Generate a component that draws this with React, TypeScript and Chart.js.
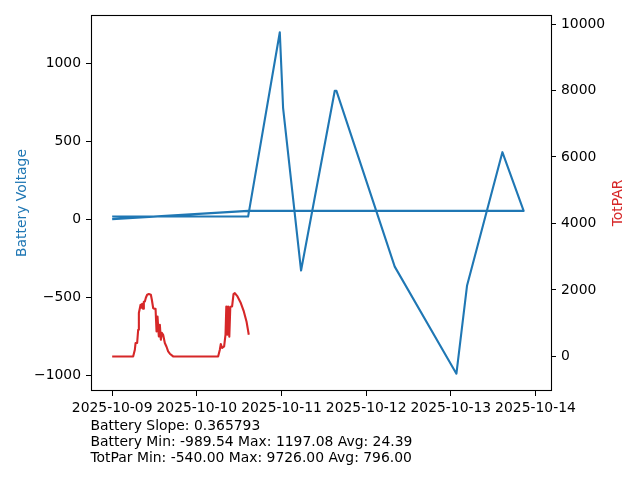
import React, { useEffect, useRef } from 'react';
import { Chart, registerables } from 'chart.js';

Chart.register(...registerables);

// ---- Data (hours since 2025-10-09 00:00) ----
const batteryHours = [0, 38.54, 47.52, 48.45, 53.55, 63.1, 63.58, 80.1, 97.59, 100.59, 110.62, 116.65, 38.54, 0];
const batteryValues = [16.7, 16.7, 1197.08, 713, -329, 822, 822, -304, -989.54, -427, 429, 53, 53, 0];

const parHours = [
  0, 5.95, 6.43, 6.63, 7.08, 7.37, 7.57, 8.05, 8.27, 8.5,
  8.78, 8.98, 9.27, 9.55, 9.92, 10.4, 10.97, 11.25, 11.62, 11.96,
  12.3, 12.58, 12.86, 13.09, 13.23, 13.52, 13.8, 14.08, 14.45, 14.93,
  15.41, 15.87, 16.35, 17.28, 30.04, 30.52, 30.8, 31.17, 31.74, 32.13,
  32.36, 32.64, 32.87, 33.21, 33.49, 34.0, 34.4, 34.77, 35.53, 36.47,
  37.32, 38.08, 38.73,
];
const parValues = [
  0, 0, 201, 403, 403, 803, 1305, 1555, 1465, 1585,
  1435, 1645, 1654, 1765, 1856, 1877, 1856, 1705, 1456, 1435,
  1435, 752, 1203, 803, 602, 953, 502, 713, 653, 403,
  292, 150, 81, 0, 0, 201, 373, 253, 301, 653,
  1504, 653, 1504, 592, 1495, 1504, 1877, 1907, 1805, 1606,
  1353, 1053, 653,
];

const xTickHours = [0, 24, 48, 72, 96, 120];
const xTickLabels = ['2025-10-09', '2025-10-10', '2025-10-11', '2025-10-12', '2025-10-13', '2025-10-14'];
const leftTicks = [-1000, -500, 0, 500, 1000];
const rightTicks = [0, 2000, 4000, 6000, 8000, 10000];

const statsLines = [
  'Battery Slope: 0.365793',
  'Battery Min: -989.54 Max: 1197.08 Avg: 24.39',
  'TotPar Min: -540.00 Max: 9726.00 Avg: 796.00',
];

const FONT = 'DejaVu Sans';
const FS = 13.9;
const BLUE = '#1f77b4';
const RED = '#d62728';

const fmtNum = (v: number) => (v < 0 ? '\u2212' + Math.abs(v) : String(v));

export default function App() {
  const ref = useRef<HTMLCanvasElement | null>(null);

  useEffect(() => {
    if (!ref.current) return;
    const overlay = {
      id: 'overlay',
      afterDraw(chart: any) {
        const ctx = chart.ctx;
        const a = chart.chartArea;
        ctx.save();
        ctx.strokeStyle = '#000';
        ctx.lineWidth = 1.1;
        ctx.strokeRect(a.left + 0.5, a.top + 0.5, a.right - a.left, a.bottom - a.top - 1);
        ctx.font = `${FS}px "${FONT}"`;
        const cy = (a.top + a.bottom) / 2;
        ctx.textAlign = 'center';
        ctx.textBaseline = 'alphabetic';
        ctx.save();
        ctx.translate(26, cy);
        ctx.rotate(-Math.PI / 2);
        ctx.fillStyle = BLUE;
        ctx.fillText('Battery Voltage', 0, 0);
        ctx.restore();
        ctx.save();
        ctx.translate(621.5, cy);
        ctx.rotate(-Math.PI / 2);
        ctx.fillStyle = RED;
        ctx.fillText('TotPAR', 0, 0);
        ctx.restore();
        ctx.fillStyle = '#000';
        ctx.textAlign = 'left';
        statsLines.forEach((line, i) => {
          ctx.fillText(line, 90.5, 429.5 + i * 16);
        });
        ctx.restore();
      },
    };

    const tickFont = { family: FONT, size: FS };
    const grid = { drawOnChartArea: false, drawTicks: true, tickLength: 5, tickColor: '#000', lineWidth: 1 };

    const chart = new Chart(ref.current, {
      type: 'line',
      data: {
        datasets: [
          {
            label: 'Battery Voltage',
            data: batteryHours.map((h, i) => ({ x: h, y: batteryValues[i] })),
            yAxisID: 'y',
            borderColor: BLUE,
            borderWidth: 2.1,
            pointRadius: 0,
            tension: 0,
            fill: false,
            borderJoinStyle: 'round',
          },
          {
            label: 'TotPAR',
            data: parHours.map((h, i) => ({ x: h, y: parValues[i] })),
            yAxisID: 'y1',
            borderColor: RED,
            borderWidth: 2.1,
            pointRadius: 0,
            tension: 0,
            fill: false,
            borderJoinStyle: 'round',
          },
        ],
      },
      options: {
        animation: false,
        responsive: false,
        devicePixelRatio: 1,
        layout: { padding: { top: 15, left: 0, right: 0, bottom: 0 } },
        plugins: { legend: { display: false }, tooltip: { enabled: false } },
        scales: {
          x: {
            type: 'linear',
            position: 'bottom',
            min: -6.0,
            max: 124.4,
            grid,
            border: { display: false },
            afterFit: (s: any) => { s.height = 89; },
            afterBuildTicks: (s: any) => { s.ticks = xTickHours.map((v) => ({ value: v })); },
            ticks: {
              autoSkip: false,
              maxRotation: 0,
              minRotation: 0,
              padding: 4,
              color: '#000',
              font: tickFont,
              callback: (v: any) => {
                const idx = xTickHours.indexOf(Number(v));
                return idx >= 0 ? xTickLabels[idx] : '';
              },
            },
          },
          y: {
            type: 'linear',
            position: 'left',
            min: -1100.3,
            max: 1307.4,
            grid,
            border: { display: false },
            afterFit: (s: any) => { s.width = 91; },
            afterBuildTicks: (s: any) => { s.ticks = leftTicks.map((v) => ({ value: v })); },
            ticks: { padding: 5, color: '#000', font: tickFont, callback: (v: any) => fmtNum(Number(v)) },
          },
          y1: {
            type: 'linear',
            position: 'right',
            min: -1040,
            max: 10272,
            grid,
            border: { display: false },
            afterFit: (s: any) => { s.width = 89; },
            afterBuildTicks: (s: any) => { s.ticks = rightTicks.map((v) => ({ value: v })); },
            ticks: { padding: 5, color: '#000', font: tickFont, callback: (v: any) => fmtNum(Number(v)) },
          },
        },
      } as any,
      plugins: [overlay],
    });
    return () => chart.destroy();
  }, []);

  return (
    <div style={{ position: 'absolute', left: 0, top: 0, width: 640, height: 480, background: '#fff' }}>
      <canvas ref={ref} width={640} height={480} style={{ width: 640, height: 480, display: 'block' }} />
    </div>
  );
}
